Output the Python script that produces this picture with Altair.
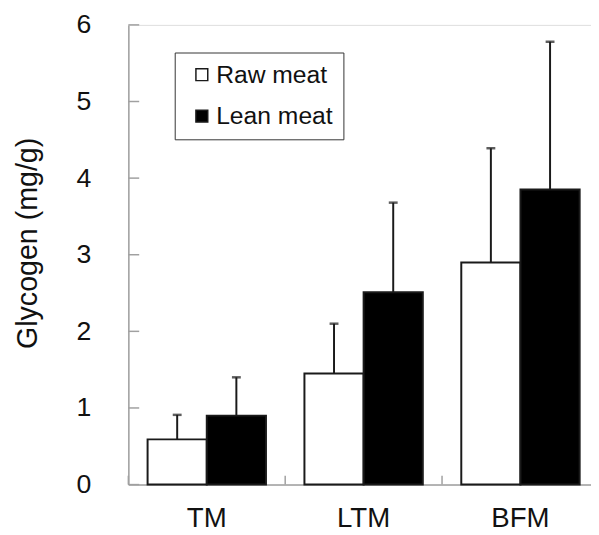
import altair as alt
import pandas as pd

categories = ["TM", "LTM", "BFM"]
series = ["Raw meat", "Lean meat"]
raw_mean = [0.59, 1.45, 2.90]
raw_upper = [0.91, 2.10, 4.39]
lean_mean = [0.90, 2.51, 3.85]
lean_upper = [1.40, 3.68, 5.78]
y_ticks = [0, 1, 2, 3, 4, 5, 6]

rows = []
for i, c in enumerate(categories):
    rows.append(dict(cat=c, series="Raw meat", mean=raw_mean[i], upper=raw_upper[i]))
    rows.append(dict(cat=c, series="Lean meat", mean=lean_mean[i], upper=lean_upper[i]))
df = pd.DataFrame(rows)
tick_df = pd.DataFrame({"v": y_ticks})
cat_df = pd.DataFrame({"cat": categories})

W, H = 469, 466
FONT = "Liberation Sans"
AXIS_GREY = "#a0a0a0"
INK = "#1a1a1a"

xscale = alt.Scale(domain=categories, range=[0, 477], paddingInner=0, paddingOuter=0)
offscale = alt.Scale(domain=series, paddingInner=0, paddingOuter=0.325)
yscale = alt.Scale(domain=[0, 6], nice=False, zero=True)

xaxis = alt.Axis(title=None, labelFontSize=28, labelPadding=42, labelBaseline="alphabetic",
                 ticks=False, tickSize=0, domainColor=AXIS_GREY, domainWidth=1.5, labelAngle=0,
                 labelColor="#111", labelFont=FONT)
yaxis = alt.Axis(title="Glycogen (mg/g)", values=y_ticks, ticks=False, tickSize=0, grid=False,
                 labelFontSize=27, labelPadding=38, labelColor="#111", labelFont=FONT,
                 titleFontSize=29, titleFont=FONT, titleFontWeight="normal", titleColor="#111",
                 titleX=-93, titleY=221, titleAngle=270, titleAlign="center",
                 titleBaseline="alphabetic", domainColor=AXIS_GREY, domainWidth=1.5)

X = alt.X("cat:N", scale=xscale, sort=categories, axis=xaxis)
XO = alt.XOffset("series:N", scale=offscale, sort=series)

bars = alt.Chart(df).mark_bar(stroke=INK, strokeWidth=2).encode(
    x=X,
    xOffset=XO,
    y=alt.Y("mean:Q", scale=yscale, axis=yaxis),
    fill=alt.Fill("series:N", scale=alt.Scale(domain=series, range=["white", "black"]),
                  legend=alt.Legend(title=None, orient="none", legendX=47, legendY=28,
                                    strokeColor="#333", fillColor="white", padding=10,
                                    labelFontSize=25, labelFont=FONT, labelColor="#111",
                                    symbolType="square", symbolSize=144,
                                    symbolStrokeColor=INK, symbolStrokeWidth=1.5,
                                    symbolOffset=5, labelOffset=2, rowPadding=16)),
)

err = alt.Chart(df).mark_rule(color=INK, strokeWidth=2).encode(
    x=X, xOffset=XO,
    y=alt.Y("mean:Q", scale=yscale, axis=yaxis),
    y2="upper:Q",
)

caps = alt.Chart(df).mark_tick(color=INK, thickness=2.5, size=9, orient="horizontal").encode(
    x=X, xOffset=XO,
    y=alt.Y("upper:Q", scale=yscale, axis=yaxis),
)

yticks = alt.Chart(tick_df).mark_rule(color=AXIS_GREY, strokeWidth=1.5).encode(
    y=alt.Y("v:Q", scale=yscale, axis=yaxis),
    x=alt.value(0), x2=alt.value(11),
)

xticks = alt.Chart(cat_df).mark_rule(color=AXIS_GREY, strokeWidth=1.5).encode(
    x=alt.X("cat:N", scale=xscale, sort=categories, axis=xaxis, bandPosition=0),
    y=alt.value(H - 9), y2=alt.value(H),
)

chart = alt.layer(yticks, xticks, bars, err, caps).properties(
    width=W, height=H,
    autosize=alt.AutoSizeParams(type="none"),
    padding={"left": 122, "top": 13.5, "right": 0, "bottom": 48},
).configure_view(stroke=None).configure(font=FONT, background="white")

chart.save("out.html", embed_options={"renderer": "svg", "actions": False})
